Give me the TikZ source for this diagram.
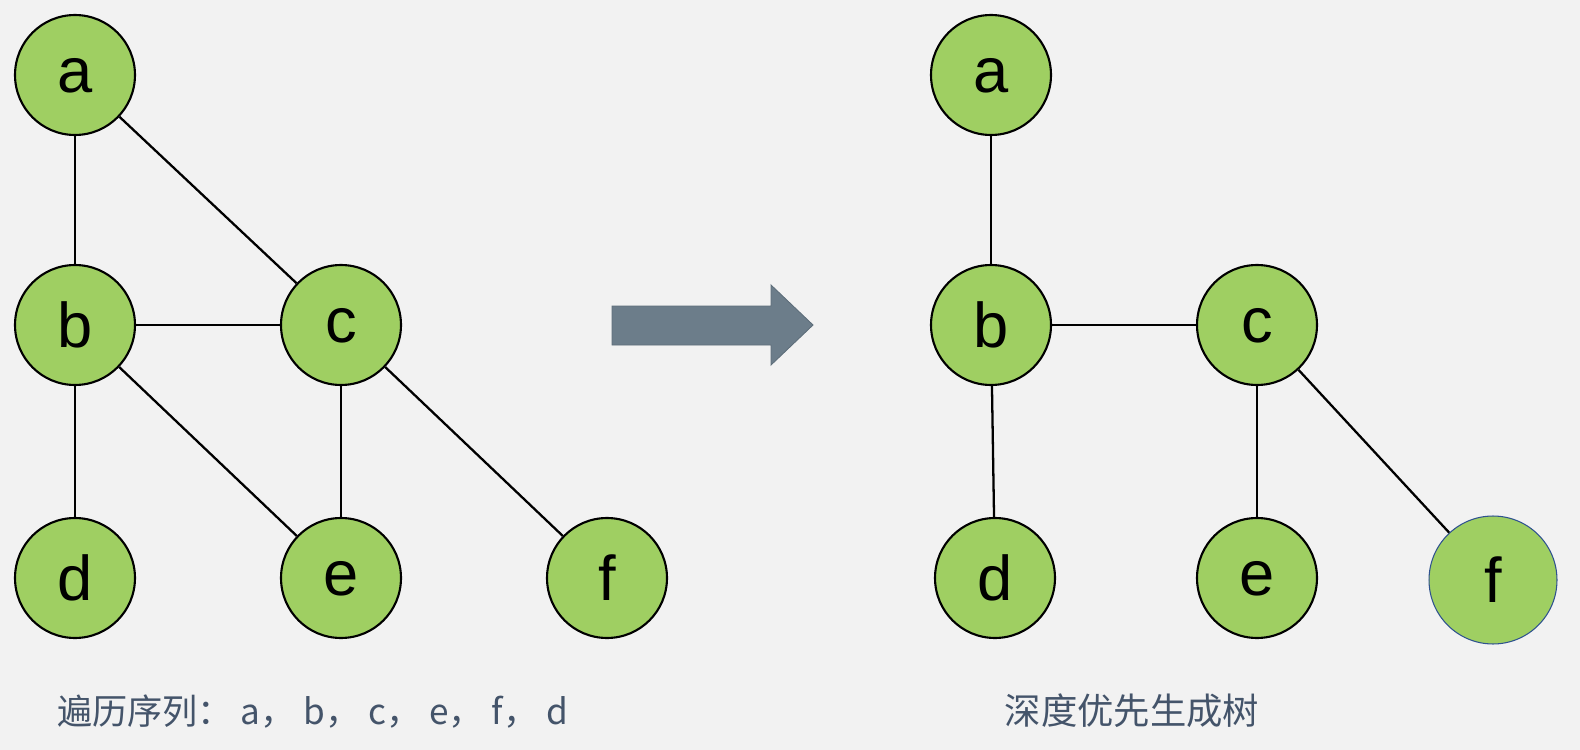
\documentclass[tikz,border=0pt]{standalone}
\usepackage{fontspec}
\setmainfont{Liberation Sans}
\newfontfamily\cjk{Noto Sans CJK SC}
\definecolor{bgcol}{HTML}{F2F2F2}
\definecolor{nodegreen}{HTML}{9FCF62}
\definecolor{textgray}{HTML}{44546A}
\definecolor{arrowgray}{HTML}{6C7D8A}
\definecolor{arrowedge}{HTML}{5E6E7A}
\definecolor{fblue}{HTML}{2F528F}
\tikzset{
  vertex/.style={circle, draw=black, line width=1.2pt, fill=nodegreen,
    minimum size=2.4cm, inner sep=0pt, text depth=-4pt,
    font=\fontsize{36}{36}\selectfont},
  capt/.style={text=textgray, inner sep=0pt}
}
\begin{document}
\begin{tikzpicture}[x=0.02cm, y=-0.02cm]
      \useasboundingbox[fill=bgcol] (0,0) rectangle (1580,750);
      % graph
      \draw
        (75,75) node[vertex] (la){a}
        (75,325) node[vertex] (lb){b}
        (341,325) node[vertex] (lc){c}
        (75,578) node[vertex] (ld){d}
        (341,578) node[vertex] (le){e}
        (607,578) node[vertex] (lf){f};
      \begin{scope}[-, line width=1.3pt]
        \draw (la) to (lb);
        \draw (la) to (lc);
        \draw (lb) to (lc);
        \draw (lb) to (ld);
        \draw (lb) to (le);
        \draw (lc) to (le);
        \draw (lc) to (lf);
      \end{scope}
      % arrow
      \draw[fill=arrowgray, draw=arrowedge, line width=0.5pt]
        (612,306) -- (771,306) -- (771,285) -- (813,325) -- (771,365)
        -- (771,345) -- (612,345) -- cycle;
      % tree
      \draw
        (991,75) node[vertex] (ra){a}
        (991,325) node[vertex] (rb){b}
        (1257,325) node[vertex] (rc){c}
        (995,578) node[vertex] (rd){d}
        (1257,578) node[vertex] (re){e}
        (1493,580) node[vertex, draw=fblue, line width=0.6pt, minimum size=2.56cm] (rf){f};
      \begin{scope}[-, line width=1.3pt]
        \draw (ra) to (rb);
        \draw (rb) to (rc);
        \draw (rb) to (rd);
        \draw (rc) to (re);
        \draw (rc) to (rf);
      \end{scope}
      % captions
      \node[capt, anchor=base west, font=\cjk\fontsize{20}{20}\selectfont]
        (order) at (57,724) {遍历序列： a， b， c， e， f， d};
      \node[capt, anchor=base, font=\cjk\fontsize{20.7}{20.7}\selectfont]
        (tree) at (1132,724) {深度优先生成树};
    \end{tikzpicture}
\end{document}
